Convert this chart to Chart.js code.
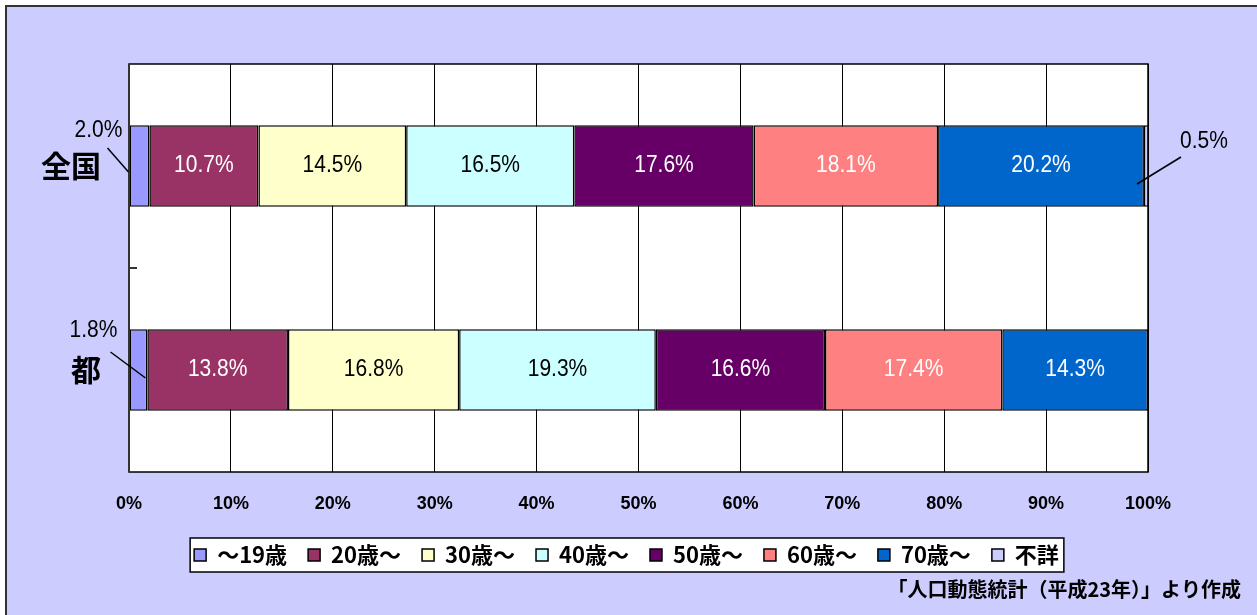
<!DOCTYPE html>
<html>
<head>
<meta charset="utf-8">
<script src="https://cdn.jsdelivr.net/npm/chart.js@4"></script>
<style>
  body { margin: 0; background: #fff; overflow: hidden; }
  #frame { position: absolute; left: 5px; top: 5px; width: 1260px; height: 620px; background: #ccccff; border: 2px solid #333; }
  #myChart { position: absolute; left: 0; top: 0; }
</style>
</head>
<body>
<div id="frame"></div>
<canvas id="myChart" width="1257" height="615"></canvas>
<script>
const categories = ['全国', '都']
const ageGroups = ['～19歳', '20歳～', '30歳～', '40歳～', '50歳～', '60歳～', '70歳～', '不詳']
// percent share per age group: [全国, 都]
const share19 = [2.0, 1.8]
const share20 = [10.7, 13.8]
const share30 = [14.5, 16.8]
const share40 = [16.5, 19.3]
const share50 = [17.6, 16.6]
const share60 = [18.1, 17.4]
const share70 = [20.2, 14.3]
const shareUnknown = [0.5, 0]
const xTicks = [0, 10, 20, 30, 40, 50, 60, 70, 80, 90, 100]
const sourceNote = '「人口動態統計（平成23年）」より作成'

const seriesValues = [share19, share20, share30, share40, share50, share60, share70, shareUnknown]
const colors = ['#9999ff', '#993366', '#ffffcc', '#ccffff', '#660066', '#ff8080', '#0066cc', '#ccccff']
const labelColors = ['#000', '#fff', '#000', '#000', '#fff', '#fff', '#fff', '#000']

// small slices get their label outside, with a leader line
const outside = {
  '0,0': { side: 'base', tx: -31, ty: -35, x1: -22, y1: -18, x2: -1, y2: 6 },
  '0,1': { side: 'base', tx: -36, ty: -39, x1: -19, y1: -18, x2: 16, y2: 8 },
  '7,0': { side: 'end', tx: 55, ty: -24, x1: 32, y1: -9, x2: -12, y2: 18 }
}

const framePlugin = {
  id: 'frame',
  beforeDraw (chart) {
    const { ctx, chartArea: a, legend } = chart
    ctx.save()
    ctx.fillStyle = '#fff'
    ctx.fillRect(a.left, a.top, a.right - a.left, a.bottom - a.top)
    const boxes = legend.legendHitBoxes
    if (boxes && boxes.length) {
      const last = boxes[boxes.length - 1]
      const l = boxes[0].left - 4
      const r = last.left + last.width + 5
      const t = boxes[0].top - 6
      const b = boxes[0].top + boxes[0].height + 6
      ctx.fillRect(l, t, r - l, b - t)
      ctx.strokeStyle = '#000'
      ctx.lineWidth = 1.5
      ctx.strokeRect(l, t, r - l, b - t)
    }
    ctx.restore()
  },
  afterDatasetsDraw (chart) {
    const { ctx, chartArea: a } = chart
    const y = chart.scales.y
    ctx.save()
    ctx.strokeStyle = '#000'
    ctx.lineWidth = 1.5
    ctx.strokeRect(a.left, a.top, a.right - a.left, a.bottom - a.top)
    ctx.strokeStyle = '#333'
    ctx.lineWidth = 2
    ctx.beginPath()
    ctx.moveTo(a.left, a.top)
    ctx.lineTo(a.left, a.bottom)
    const mid = (y.getPixelForValue(0) + y.getPixelForValue(1)) / 2
    ctx.moveTo(a.left, mid)
    ctx.lineTo(a.left + 8, mid)
    ctx.stroke()

    // category names on the left
    ctx.fillStyle = '#000'
    ctx.font = 'bold 30px "Noto Sans CJK JP", sans-serif'
    ctx.textAlign = 'right'
    ctx.textBaseline = 'middle'
    categories.forEach((c, i) => {
      ctx.fillText(c, a.left - 28, y.getPixelForValue(i))
    })

    ctx.font = '21px "Liberation Sans", Arial, sans-serif'
    ctx.textAlign = 'center'
    chart.data.datasets.forEach((ds, di) => {
      const meta = chart.getDatasetMeta(di)
      meta.data.forEach((bar, i) => {
        const v = ds.data[i]
        if (!v) return
        const text = v.toFixed(1) + '%'
        const o = outside[di + ',' + i]
        let tx, ty
        ctx.fillStyle = labelColors[di]
        if (o) {
          const ox = o.side === 'base' ? bar.base : bar.x
          tx = ox + o.tx
          ty = bar.y + o.ty
          ctx.fillStyle = '#000'
          ctx.strokeStyle = '#000'
          ctx.lineWidth = 1.5
          ctx.beginPath()
          ctx.moveTo(ox + o.x1, bar.y + o.y1)
          ctx.lineTo(ox + o.x2, bar.y + o.y2)
          ctx.stroke()
        } else {
          tx = (bar.x + bar.base) / 2
          ty = bar.y
        }
        ctx.save()
        ctx.translate(tx, ty)
        ctx.scale(1, 1.12)
        ctx.fillText(text, 0, 0)
        ctx.restore()
      })
    })

    ctx.fillStyle = '#000'
    ctx.font = 'bold 20px "Noto Sans CJK JP", sans-serif'
    ctx.textAlign = 'right'
    ctx.fillText(sourceNote, 1241, 589)
    ctx.restore()
  }
}

const ctx = document.querySelector('#myChart')
const myChart = new Chart(ctx, {
  type: 'bar',
  data: {
    labels: categories,
    datasets: ageGroups.map((name, i) => ({
      label: name,
      data: seriesValues[i],
      backgroundColor: colors[i],
      borderColor: '#000',
      borderWidth: 1.5,
      borderSkipped: false,
      barPercentage: 0.4,
      categoryPercentage: 1
    }))
  },
  options: {
    responsive: false,
    animation: false,
    indexAxis: 'y',
    layout: { padding: { top: 64, right: 109, left: 105, bottom: 39 } },
    scales: {
      x: {
        stacked: true,
        min: 0,
        max: 100,
        afterBuildTicks: scale => { scale.ticks = xTicks.map(v => ({ value: v })) },
        afterFit: scale => { scale.height = 51 },
        grid: { color: '#000', lineWidth: 1, drawTicks: false },
        border: { display: false },
        ticks: {
          padding: 21,
          color: '#000',
          font: { family: '"Liberation Sans", Arial, sans-serif', size: 18, weight: 'bold' },
          callback: v => v + '%'
        }
      },
      y: {
        stacked: true,
        afterFit: scale => { scale.width = 24 },
        grid: { display: false, drawTicks: false },
        border: { display: false },
        ticks: { display: false }
      }
    },
    plugins: {
      legend: {
        position: 'bottom',
        labels: {
          boxWidth: 12,
          boxHeight: 12,
          padding: 21,
          color: '#000',
          font: { family: '"Noto Sans CJK JP", sans-serif', size: 22, weight: 'bold' }
        }
      },
      tooltip: { enabled: false }
    }
  },
  plugins: [framePlugin]
})
</script>
</body>
</html>
